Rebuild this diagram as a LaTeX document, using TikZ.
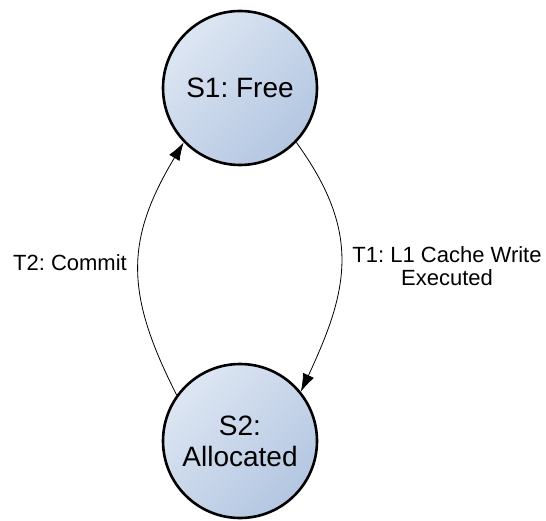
\documentclass[tikz,border=0pt]{standalone}
\usepackage{fontspec}
\setmainfont{Liberation Sans}
\usetikzlibrary{arrows.meta}
\frenchspacing

\begin{document}
\begin{tikzpicture}[x=1pt, y=1pt,
    state/.style={circle, draw=black, line width=2.6pt, minimum size=154pt,
        inner sep=0pt, align=center,
        top color=stateTop, bottom color=stateBottom, shading angle=45,
        font=\fontsize{28}{31}\selectfont},
    trans/.style={line width=0.8pt, -{Latex[length=18pt, width=12pt]}},
    translabel/.style={draw=none, align=center, font=\fontsize{22}{23}\selectfont}]
             \definecolor{stateTop}{HTML}{DDE6F3}
             \definecolor{stateBottom}{HTML}{B3C6E1}
             \useasboundingbox (0, 0) rectangle (546, 520);

             \node[state] (free) at (240, 432) {S1: Free};
             \node[state] (alloc) at (240, 79) {S2:\\Allocated};

             \node[translabel] (write) at (447, 254) {T1: L1 Cache Write\\Executed};
             \node[translabel] (commit) at (70, 257) {T2: Commit};

             \draw[trans] (free.-44) .. controls +(-54:112) and +(65:112) .. (alloc.39);
             \draw[trans] (alloc.144) .. controls +(117:114) and +(-121:114) .. (free.224);
             \end{tikzpicture}
\end{document}
